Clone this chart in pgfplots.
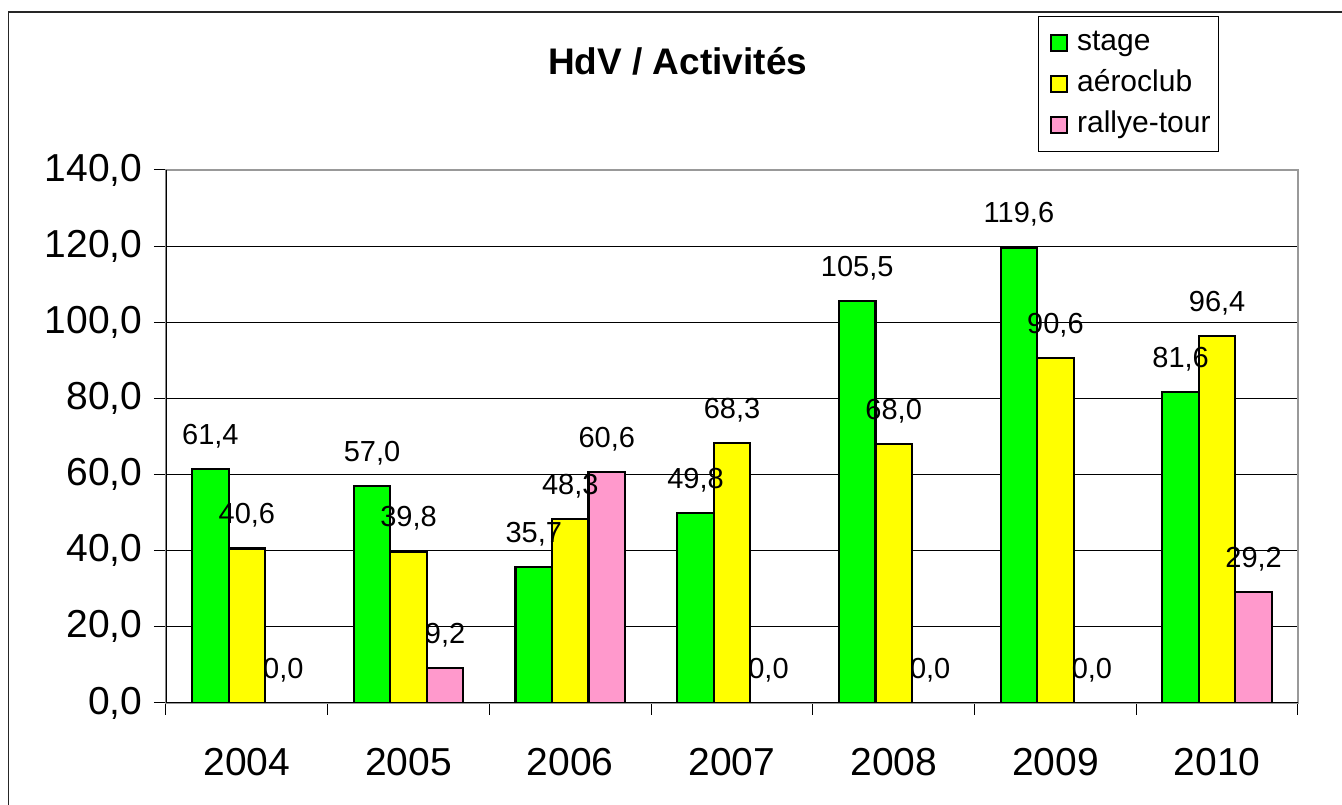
\documentclass[border=0pt]{standalone}
\usepackage{fontspec}
\setmainfont{Liberation Sans}
\usepackage{pgfplots}
\pgfplotsset{compat=1.18}
\definecolor{cgreen}{RGB}{0,255,0}
\definecolor{cyellow}{RGB}{255,255,0}
\definecolor{cpink}{RGB}{255,153,204}
\begin{document}
\begin{tikzpicture}[x=1pt,y=1pt]
\useasboundingbox (0,0) rectangle (1342,805);
\draw[line width=1.5pt, black!85] (8.5,0) -- (8.5,793) -- (1342,793);
\begin{axis}[
  at={(166pt,102pt)}, anchor=south west,
  width=1132pt, height=533pt, scale only axis,
  ybar=0pt, bar width=36.5pt,
  xmin=-0.5, xmax=6.5,
  ymin=0, ymax=140,
  ytick={0,20,...,140},
  xtick={-0.5,0.5,...,6.5},
  xticklabels={2004,2005,2006,2007,2008,2009,2010},
  x tick label as interval,
  ymajorgrids, major grid style={black, line width=1pt},
  axis line style={gray!80, line width=1.5pt},
  tick align=outside, xtick pos=bottom, ytick pos=left,
  major tick length=12pt,
  tick style={black, line width=1pt},
  /pgf/number format/assume math mode=true,
  yticklabel style={/pgf/number format/.cd, fixed, fixed zerofill, precision=1, use comma, /tikz/.cd, xshift=-8pt},
  xticklabel style={yshift=-30pt},
  ticklabel style={font=\fontsize{39}{44}\selectfont},
  title={HdV / Activités},
  title style={font=\bfseries\fontsize{37}{40}\selectfont, at={(0.452,1.193)}, anchor=center},
  nodes near coords={\pgfmathprintnumber[fixed,fixed zerofill,precision=1,use comma,assume math mode=true]{\pgfplotspointmeta}},
  nodes near coords style={font=\fontsize{29}{31}\selectfont, anchor=center, yshift=33pt, black},
  every axis plot/.append style={draw=black, line width=2.2pt},
  legend image code/.code={\draw[#1, line width=1.5pt] (0pt,-8pt) rectangle (16pt,8pt); \path[draw=none,fill=none] (-7pt,0pt) (24pt,0pt);},
  legend style={at={(0.770,1.289)}, anchor=north west, draw=black, line width=1pt,
    font=\fontsize{30}{32}\selectfont, inner xsep=6pt, inner ysep=10pt,
    nodes={inner sep=2pt, text height=22pt, text depth=7pt},
    row sep=8pt},
  legend cell align=left,
]
\addplot[fill=cgreen] coordinates {(0,61.4) (1,57.0) (2,35.7) (3,49.8) (4,105.5) (5,119.6) (6,81.6)};
\addplot[fill=cyellow] coordinates {(0,40.6) (1,39.8) (2,48.3) (3,68.3) (4,68.0) (5,90.6) (6,96.4)};
\addplot[fill=cpink] coordinates {(0,0) (1,9.2) (2,60.6) (3,0) (4,0) (5,0) (6,29.2)};
\legend{stage,aéroclub,rallye-tour}
\draw[black, line width=1.5pt] (axis description cs:0,1) -- (axis description cs:0,0) -- (axis description cs:1,0);
\end{axis}
\end{tikzpicture}
\end{document}
